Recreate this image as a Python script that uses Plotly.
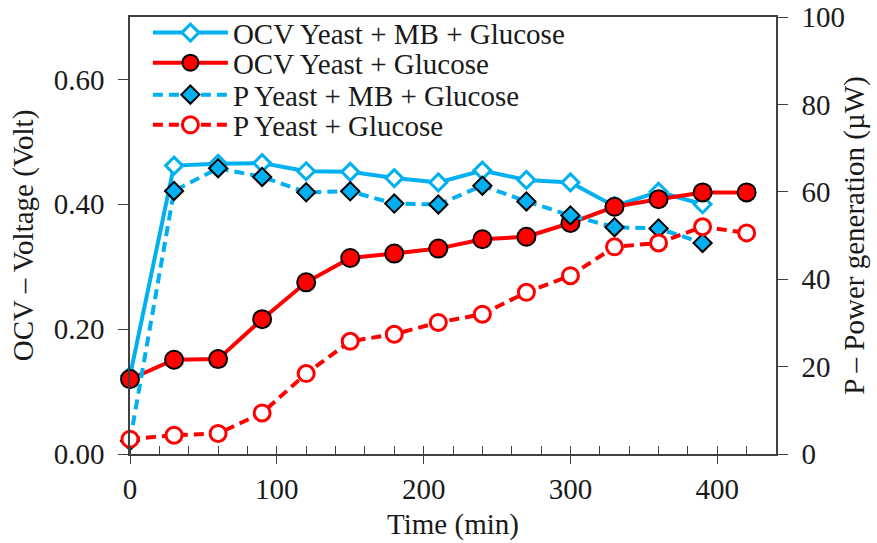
import plotly.graph_objects as go

time_min = [0, 30, 60, 90, 120, 150, 180, 210, 240, 270, 300, 330, 360, 390, 420]
time_mb = [0, 30, 60, 90, 120, 150, 180, 210, 240, 270, 300, 330, 360, 390]

ocv_yeast_mb_glucose = [0.125, 0.462, 0.465, 0.466, 0.453, 0.452, 0.442, 0.435, 0.454, 0.439, 0.435, 0.397, 0.420, 0.400]
ocv_yeast_glucose = [0.120, 0.151, 0.152, 0.216, 0.275, 0.314, 0.321, 0.329, 0.344, 0.348, 0.370, 0.396, 0.408, 0.419, 0.419]
p_yeast_mb_glucose = [3.0, 60.2, 65.4, 63.4, 59.9, 60.1, 57.3, 57.1, 61.4, 57.8, 54.6, 51.9, 51.6, 48.3]
p_yeast_glucose = [3.4, 4.3, 4.7, 9.4, 18.4, 25.8, 27.4, 30.1, 32.0, 37.0, 40.8, 47.4, 48.3, 52.0, 50.6]

names = ["OCV Yeast + MB + Glucose", "OCV Yeast + Glucose",
         "P Yeast + MB + Glucose", "P Yeast + Glucose"]

BLUE = "#00B0F0"
RED = "#FF0000"
FONT = "Liberation Serif"
TXT = "#1a1a1a"
AX = "#404040"
FS = 29

fig = go.Figure()
fig.add_trace(go.Scatter(
    x=time_mb, y=ocv_yeast_mb_glucose, name=names[0], mode="lines+markers",
    line=dict(color=BLUE, width=4),
    marker=dict(symbol="diamond", size=13, color="white", line=dict(color=BLUE, width=3)),
    cliponaxis=False, legend="legend", yaxis="y"))
fig.add_trace(go.Scatter(
    x=time_min, y=ocv_yeast_glucose, name=names[1], mode="lines+markers",
    line=dict(color=RED, width=4),
    marker=dict(symbol="circle", size=18, color=RED, line=dict(color="black", width=2)),
    cliponaxis=False, legend="legend2", yaxis="y"))
fig.add_trace(go.Scatter(
    x=time_mb, y=p_yeast_mb_glucose, name=names[2], mode="lines+markers",
    line=dict(color=BLUE, width=4, dash="10px,6px"),
    marker=dict(symbol="diamond", size=14, color=BLUE, line=dict(color="black", width=2)),
    cliponaxis=False, legend="legend3", yaxis="y2"))
fig.add_trace(go.Scatter(
    x=time_min, y=p_yeast_glucose, name=names[3], mode="lines+markers",
    line=dict(color=RED, width=4, dash="10px,6px"),
    marker=dict(symbol="circle", size=16, color="white", line=dict(color=RED, width=3)),
    cliponaxis=False, legend="legend4", yaxis="y2"))

def leg(yc):
    return dict(x=0.0277, y=yc, xanchor="left", yanchor="middle",
                bgcolor="rgba(0,0,0,0)", borderwidth=0,
                font=dict(family=FONT, size=FS, color=TXT), itemwidth=75)

fig.update_layout(
    width=877, height=543,
    margin=dict(l=130, r=101, t=17, b=89, autoexpand=False),
    paper_bgcolor="white", plot_bgcolor="white",
    font=dict(family=FONT, size=FS, color=TXT),
    showlegend=True,
    legend=leg(0.964), legend2=leg(0.895), legend3=leg(0.822), legend4=leg(0.753),
    xaxis=dict(range=[0, 440], dtick=100, tick0=0, showgrid=False, zeroline=False,
               showline=True, linecolor=AX, linewidth=1.5, mirror=True,
               ticks="outside", ticklen=8, tickwidth=1.3, tickcolor=AX,
               minor=dict(dtick=20, ticks="inside", ticklen=8, tickwidth=1.3, tickcolor=AX),
               title=dict(text="Time (min)", font=dict(size=FS), standoff=10),
               tickfont=dict(size=FS)),
    xaxis2=dict(range=[0, 440], dtick=100, tick0=0, overlaying="x", anchor="y", side="bottom",
                showgrid=False, zeroline=False, showline=False, showticklabels=False,
                ticks="inside", ticklen=8, tickwidth=1.3, tickcolor=AX),
    yaxis=dict(range=[0, 0.7], dtick=0.2, tick0=0, tickformat=".2f", showgrid=False,
               zeroline=False, showline=True, linecolor=AX, linewidth=1.5,
               ticks="outside", ticklen=10, tickwidth=1.3, tickcolor=AX,
               ticklabelstandoff=8,
               title=dict(text="OCV – Voltage (Volt)", font=dict(size=FS), standoff=12),
               tickfont=dict(size=FS)),
    yaxis2=dict(range=[0, 100], dtick=20, tick0=0, overlaying="y", side="right",
                showgrid=False, zeroline=False, showline=True, linecolor=AX, linewidth=1.5,
                ticks="outside", ticklen=10, tickwidth=1.3, tickcolor=AX,
                ticklabelstandoff=8,
                title=dict(text="P – Power generation (µW)", font=dict(size=FS), standoff=0),
                tickfont=dict(size=FS)),
)

fig.write_html("out.html")
